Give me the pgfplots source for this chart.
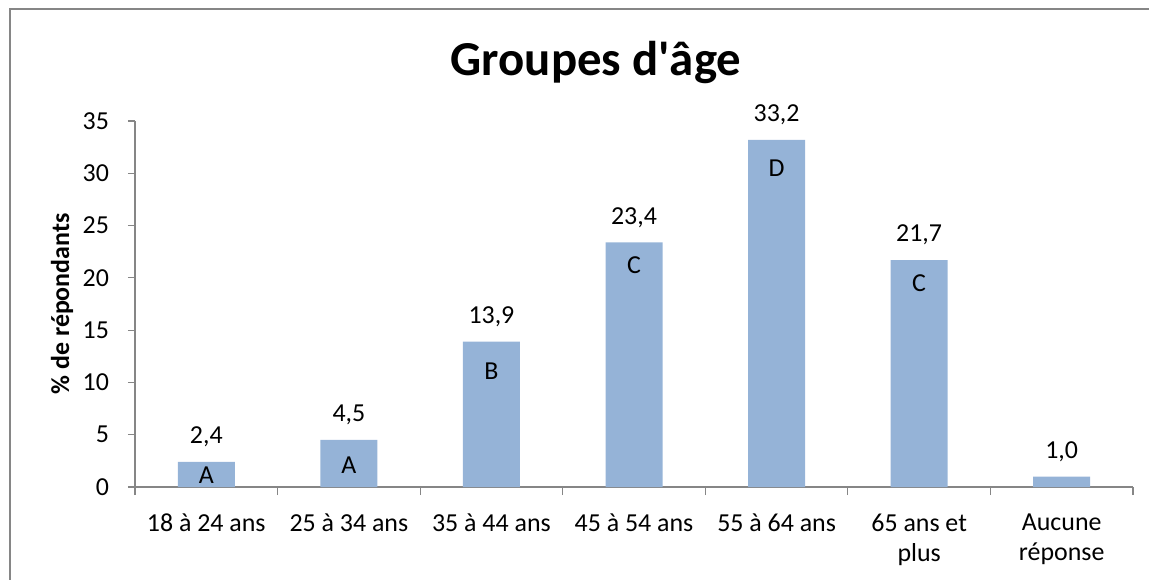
\documentclass[border=0pt]{standalone}
\usepackage{fontspec}
\setmainfont{Carlito}
\usepackage{pgfplots}
\usepackage{pgfplotstable}
\pgfplotsset{compat=1.18}

\definecolor{barblue}{HTML}{95B3D7}
\definecolor{axgray}{HTML}{868686}

% valeurs (%) et libelles
\pgfplotstableread{
x y lab
0 2.4 2,4
1 4.5 4,5
2 13.9 13,9
3 23.4 23,4
4 33.2 33,2
5 21.7 21,7
6 1.0 1,0
}\agedata

% lettres dans les barres
\pgfplotstableread{
x y lab
0 1.15 A
1 2.1 A
2 11.1 B
3 21.2 C
4 30.5 D
5 19.5 C
}\letters

\newcommand\lblfont{\fontsize{13}{15}\selectfont}

\begin{document}
\begin{tikzpicture}
\path[use as bounding box] (0,0) rectangle (574.5bp,290bp);
\draw[axgray, line width=0.8bp] (5bp,0) -- (5bp,285.5bp) -- (574.5bp,285.5bp);
\begin{axis}[
  at={(67.5bp,46.5bp)}, anchor=south west,
  scale only axis, width=499bp, height=183bp,
  xmin=-0.5, xmax=6.5, ymin=0, ymax=35,
  axis lines=left,
  axis line style={axgray, -, line width=0.6bp},
  tick align=outside,
  ytick={0,5,...,35},
  major y tick style={axgray, line width=0.6bp},
  major tick length=3.5bp,
  xtick={0,...,6},
  xticklabels={18 à 24 ans, 25 à 34 ans, 35 à 44 ans, 45 à 54 ans, 55 à 64 ans, {65 ans et\\plus}, {Aucune\\réponse}},
  major x tick style={draw=none},
  minor xtick={-0.5,0.5,...,6.5},
  minor x tick style={axgray, line width=0.6bp},
  minor tick length=4bp,
  /pgf/number format/assume math mode=true,
  tick label style={font=\lblfont},
  xticklabel style={align=center, anchor=north, yshift=-6.5bp},
  yticklabel style={xshift=-6bp},
  ylabel={\bfseries \% de répondants},
  ylabel style={font=\lblfont, at={(axis description cs:-0.073,0.5)}, anchor=center, rotate=0},
  title={Groupes d\textquotesingle âge},
  title style={font=\bfseries\fontsize{24.5}{29}\selectfont, at={(axis description cs:0.462,1.127)}, anchor=center},
  clip=false,
]
\addplot[ybar, bar width=28.5bp, fill=barblue, draw=none,
  nodes near coords, point meta=explicit symbolic,
  nodes near coords style={font=\lblfont, anchor=center, yshift=12.5bp}]
  table[x=x, y=y, meta=lab] {\agedata};
\addplot[draw=none, mark=none,
  nodes near coords, point meta=explicit symbolic,
  nodes near coords style={font=\lblfont, anchor=center}]
  table[x=x, y=y, meta=lab] {\letters};
\end{axis}
\end{tikzpicture}
\end{document}
